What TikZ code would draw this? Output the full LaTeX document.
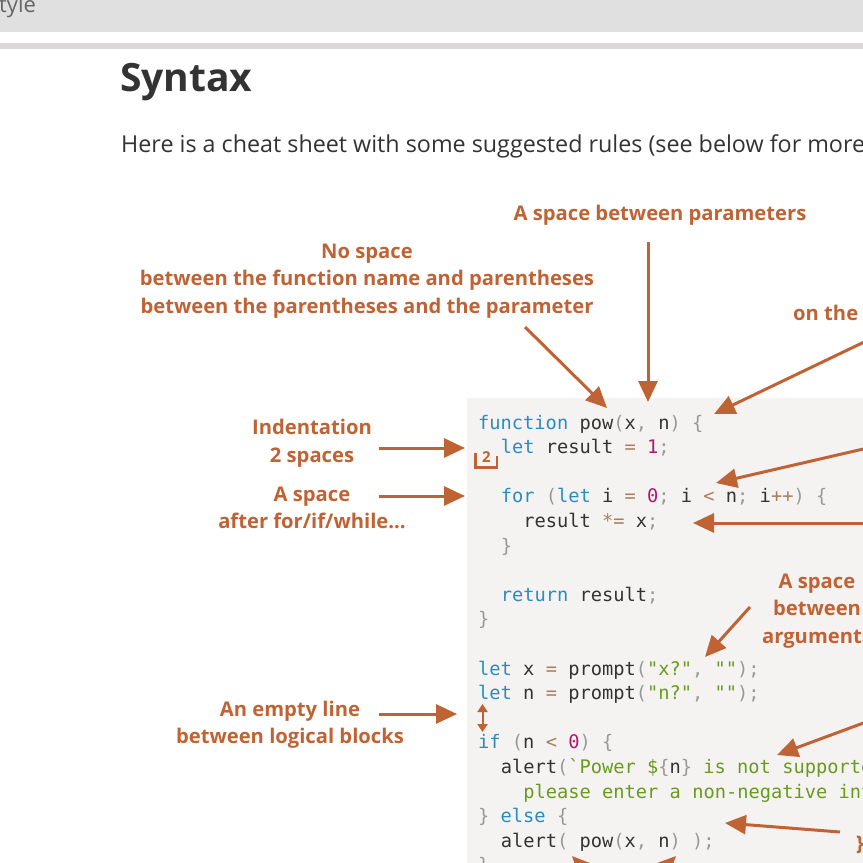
\documentclass[tikz,border=0pt]{standalone}
\usepackage{fontspec}
\setmainfont{Open Sans}
\setmonofont{DejaVu Sans Mono}
\newfontfamily\annf{Open Sans}
\usetikzlibrary{arrows.meta}
\definecolor{ann}{HTML}{C06334}
\definecolor{kwc}{HTML}{2A8CC0}
\definecolor{puc}{HTML}{999999}
\definecolor{opc}{HTML}{A67F59}
\definecolor{nmc}{HTML}{333333}
\definecolor{nuc}{HTML}{B0176E}
\definecolor{stc}{HTML}{6A9A1F}
\definecolor{codebg}{HTML}{F5F3F2}
\definecolor{barbg}{HTML}{E0E0E0}
\definecolor{linebg}{HTML}{DCD8D9}
\definecolor{headc}{HTML}{333333}
\newcommand\ckw[1]{\textcolor{kwc}{#1}}
\newcommand\cpu[1]{\textcolor{puc}{#1}}
\newcommand\cop[1]{\textcolor{opc}{#1}}
\newcommand\cnm[1]{\textcolor{nmc}{#1}}
\newcommand\cnu[1]{\textcolor{nuc}{#1}}
\newcommand\cst[1]{\textcolor{stc}{#1}}
\begin{document}
\begin{tikzpicture}[x=1pt,y=-1pt,
  annot/.style={font=\annf\bfseries\fontsize{20.2}{27.5}\selectfont, text=ann, anchor=base, inner sep=0},
  codeline/.style={font=\ttfamily\fontsize{18.7}{24.6}\selectfont, anchor=base west, inner sep=0, text=nmc},
  arr/.style={draw=ann, line width=3pt, -{Triangle[length=21pt,width=19pt]}},
  darr/.style={draw=ann, line width=2pt, {Triangle[length=8pt,width=10pt]}-{Triangle[length=8pt,width=10pt]}}]
\useasboundingbox (0,0) rectangle (863,863);
\clip (0,0) rectangle (863,863);
\fill[white] (0,0) rectangle (863,863);
% top bars
\fill[barbg] (0,0) rectangle (863,32);
\fill[linebg] (0,43) rectangle (863,49);
\node[anchor=base west, inner sep=0, text=black!60, font=\fontsize{22}{22}\selectfont] (tyle) at (-1,12) {tyle};
% heading
\node[anchor=base west, inner sep=0, text=headc, font=\bfseries\fontsize{39}{40}\selectfont] (syntax) at (120,91) {Syntax};
\node[anchor=base west, inner sep=0, text=headc, font=\fontsize{23.3}{26}\selectfont] (intro) at (121,152) {Here is a cheat sheet with some suggested rules (see below for more details):};
% code box
\fill[codebg] (467,398) rectangle (870,870);
% code lines
\node[codeline] (c1) at (478,429) {\ckw{function} \cnm{pow}\cpu{(}\cnm{x}\cpu{,} \cnm{n}\cpu{)} \cpu{\{}};
\node[codeline] (c2) at (500.6,453.6) {\ckw{let} \cnm{result} \cop{=} \cnu{1}\cpu{;}};
\node[codeline] (c4) at (500.6,502.8) {\ckw{for} \cpu{(}\ckw{let} \cnm{i} \cop{=} \cnu{0}\cpu{;} \cnm{i} \cop{<} \cnm{n}\cpu{;} \cnm{i}\cop{++}\cpu{)} \cpu{\{}};
\node[codeline] (c5) at (523.2,527.4) {\cnm{result} \cop{*=} \cnm{x}\cpu{;}};
\node[codeline] (c6) at (500.6,552) {\cpu{\}}};
\node[codeline] (c8) at (500.6,601.2) {\ckw{return} \cnm{result}\cpu{;}};
\node[codeline] (c9) at (478,625.8) {\cpu{\}}};
\node[codeline] (c11) at (478,675) {\ckw{let} \cnm{x} \cop{=} \cnm{prompt}\cpu{(}\cst{"x?"}\cpu{,} \cst{""}\cpu{);}};
\node[codeline] (c12) at (478,699.6) {\ckw{let} \cnm{n} \cop{=} \cnm{prompt}\cpu{(}\cst{"n?"}\cpu{,} \cst{""}\cpu{);}};
\node[codeline] (c14) at (478,748.8) {\ckw{if} \cpu{(}\cnm{n} \cop{<} \cnu{0}\cpu{)} \cpu{\{}};
\node[codeline] (c15) at (500.6,773.4) {\cnm{alert}\cpu{(}\cst{`Power \$}\cpu{\{}\cnm{n}\cpu{\}} \cst{is not supported,}};
\node[codeline] (c16) at (523.2,798) {\cst{please enter a non-negative integer number`}\cpu{);}};
\node[codeline] (c17) at (478,822.6) {\cpu{\}} \ckw{else} \cpu{\{}};
\node[codeline] (c18) at (500.6,847.2) {\cnm{alert}\cpu{(} \cnm{pow}\cpu{(}\cnm{x}\cpu{,} \cnm{n}\cpu{)} \cpu{);}};
\node[codeline] (c19) at (478,871.8) {\cpu{\}}};
% indentation marker
\draw[ann, line width=2.2pt] (475.5,453) -- (475.5,467.5) -- (497,467.5) -- (497,456);
\node[inner sep=0, anchor=base, text=ann, font=\annf\bfseries\fontsize{15}{15}\selectfont] (two) at (486.3,462) {2};
% annotations
\node[annot] (sp1) at (660,220) {A space between parameters};
\node[annot] (ns1) at (367,258) {No space};
\node[annot] (ns2) at (367,285.5) {between the function name and parentheses};
\node[annot] (ns3) at (367,313) {between the parentheses and the parameter};
\node[annot, anchor=base west] (onthe) at (793,320) {on the};
\node[annot] (ind1) at (312,434.5) {Indentation};
\node[annot] (ind2) at (312,462) {2 spaces};
\node[annot] (as1) at (312,501) {A space};
\node[annot] (as2) at (312,528.5) {after for/if/while...};
\node[annot] (ar1) at (817,588) {A space};
\node[annot] (ar2) at (817,615.5) {between};
\node[annot] (ar3) at (817,643) {arguments};
\node[annot] (el1) at (290,716) {An empty line};
\node[annot] (el2) at (290,743.5) {between logical blocks};
\node[annot, anchor=base west] (brace) at (856,850) {\}};
% arrow coordinates
\coordinate (a1s) at (525,327);  \coordinate (a1t) at (607,408);
\coordinate (a2s) at (648,242);  \coordinate (a2t) at (648,402);
\coordinate (a3s) at (885,332);  \coordinate (a3t) at (714,414);
\coordinate (a4s) at (885,444);  \coordinate (a4t) at (716,483);
\coordinate (a5s) at (885,523);  \coordinate (a5t) at (693,523);
\coordinate (a6s) at (750,607);  \coordinate (a6t) at (705,657);
\coordinate (a7s) at (885,715);  \coordinate (a7t) at (777,755);
\coordinate (a8s) at (840,832);  \coordinate (a8t) at (725,823);
\coordinate (a9s) at (623,910);  \coordinate (a9t) at (572,856);
\coordinate (a10t) at (676,856);
\coordinate (b1s) at (379,448);  \coordinate (b1t) at (465,448);
\coordinate (b2s) at (379,496);  \coordinate (b2t) at (465,496);
\coordinate (b3s) at (379,714);  \coordinate (b3t) at (457,714);
\coordinate (d1) at (482.5,704);  \coordinate (d2) at (482.5,732);
\draw[arr] (a1s) -- (a1t);
\draw[arr] (a2s) -- (a2t);
\draw[arr] (a3s) -- (a3t);
\draw[arr] (a4s) -- (a4t);
\draw[arr] (a5s) -- (a5t);
\draw[arr] (a6s) -- (a6t);
\draw[arr] (a7s) -- (a7t);
\draw[arr] (a8s) -- (a8t);
\draw[arr] (a9s) -- (a9t);
\draw[arr] (a9s) -- (a10t);
\draw[arr] (b1s) -- (b1t);
\draw[arr] (b2s) -- (b2t);
\draw[arr] (b3s) -- (b3t);
\draw[darr] (d1) -- (d2);
\end{tikzpicture}
\end{document}
